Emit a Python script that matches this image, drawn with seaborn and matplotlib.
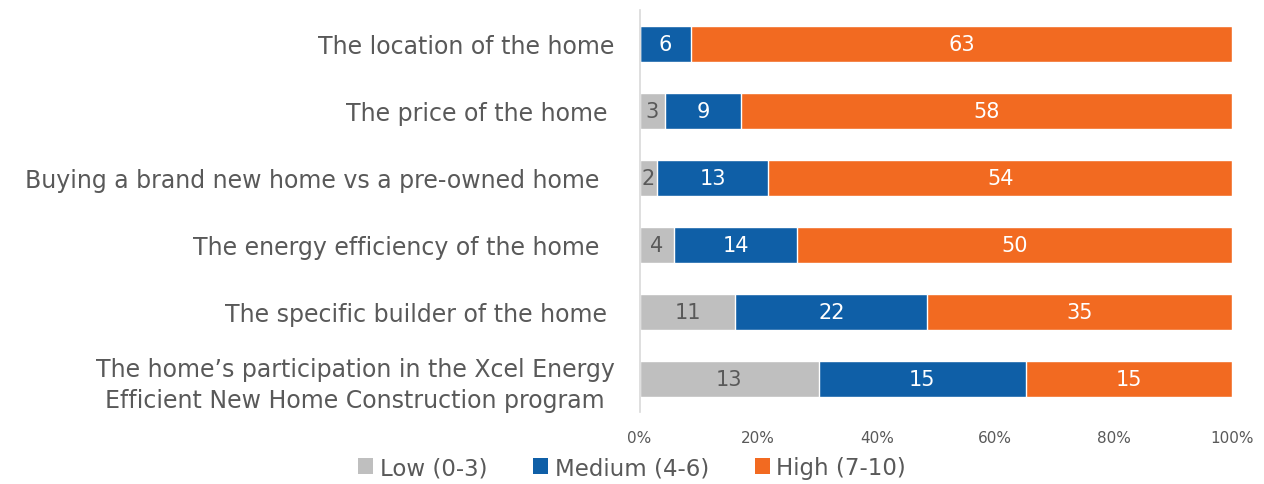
import numpy as np
import pandas as pd
import matplotlib
matplotlib.use('Agg')
import matplotlib.pyplot as plt
import seaborn as sns
from matplotlib.patches import Patch

# Data
questions = ['The location of the home',
             'The price of the home ',
             'Buying a brand new home vs a pre-owned home  ',
             'The energy efficiency of the home  ',
             'The specific builder of the home ',
             'The home\u2019s participation in the Xcel Energy\nEfficient New Home Construction program']
low = [0, 3, 2, 4, 11, 13]
medium = [6, 9, 13, 14, 22, 15]
high = [63, 58, 54, 50, 35, 15]

series_names = ['Low (0-3)', 'Medium (4-6)', 'High (7-10)']
colors = ['#BFBFBF', '#0F5FA7', '#F26A21']
text_color = '#595959'

df = pd.DataFrame({'question': questions, 'low': low, 'medium': medium, 'high': high})
total = df[['low', 'medium', 'high']].sum(axis=1)
df['low_pct'] = df['low'] / total * 100
df['med_pct'] = df['medium'] / total * 100
df['high_pct'] = df['high'] / total * 100
df['cum_low'] = df['low_pct']
df['cum_med'] = df['low_pct'] + df['med_pct']
df['cum_high'] = df['cum_med'] + df['high_pct']

sns.set_style('white')
plt.rcParams['font.family'] = ['DejaVu Sans']

fig = plt.figure(figsize=(12.64, 4.85), dpi=100)
ax = fig.add_axes([0.506, 0.148, 0.469, 0.829])

# draw back to front so the stacks show
sns.barplot(data=df, y='question', x='cum_high', color=colors[2], width=0.54,
            orient='h', ax=ax, saturation=1)
sns.barplot(data=df, y='question', x='cum_med', color=colors[1], width=0.54,
            orient='h', ax=ax, saturation=1)
sns.barplot(data=df, y='question', x='cum_low', color=colors[0], width=0.54,
            orient='h', ax=ax, saturation=1)

# value labels in the middle of each segment
for i, row in df.iterrows():
    segs = [(row['low'], 0, row['cum_low'], text_color),
            (row['medium'], row['cum_low'], row['cum_med'], 'white'),
            (row['high'], row['cum_med'], row['cum_high'], 'white')]
    for val, a, b, c in segs:
        if val > 0:
            ax.text((a + b) / 2, i, str(val), ha='center', va='center',
                    fontsize=15, color=c)

ax.set_xlim(0, 100)
ax.set_ylim(5.5, -0.5)
ax.set_xticks([0, 20, 40, 60, 80, 100])
ax.set_xticklabels([f'{t}%' for t in [0, 20, 40, 60, 80, 100]])
ax.tick_params(axis='x', labelsize=11, colors=text_color, length=0, pad=13)
ax.tick_params(axis='y', labelsize=17, colors=text_color, length=0, pad=18)
for lab in ax.get_yticklabels():
    lab.set_multialignment('center')
    lab.set_linespacing(1.35)
ax.set_xlabel('')
ax.set_ylabel('')

for s in ['top', 'right', 'bottom']:
    ax.spines[s].set_visible(False)
ax.spines['left'].set_color('#D9D9D9')
ax.spines['left'].set_linewidth(1.2)

handles = [Patch(facecolor=c, edgecolor='none') for c in colors]
leg = fig.legend(handles, series_names, loc='center', bbox_to_anchor=(0.5, 0.034),
                 ncol=3, frameon=False, fontsize=16.5, handlelength=0.65,
                 handleheight=0.65, handletextpad=0.3, columnspacing=2.0)
for t in leg.get_texts():
    t.set_color(text_color)

fig.savefig('out.png', dpi=100)
